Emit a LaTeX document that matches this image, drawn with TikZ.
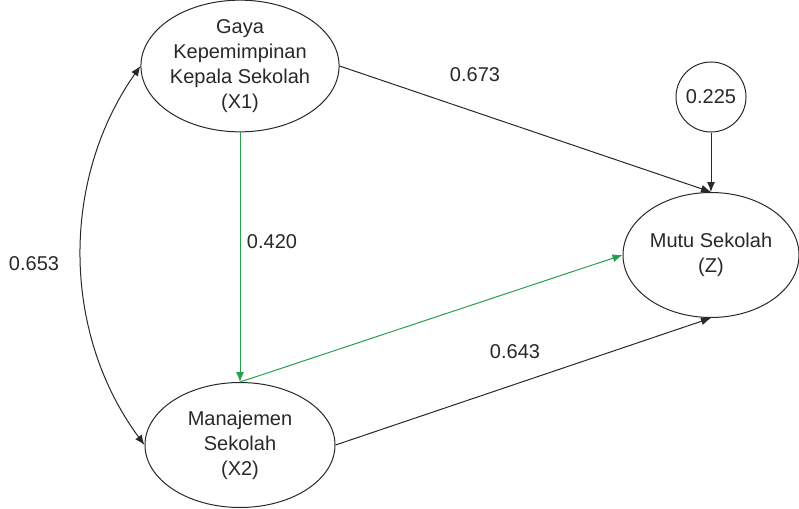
\documentclass[tikz,border=0pt]{standalone}
\usepackage{fontspec}
\setmainfont{Liberation Sans}
\usetikzlibrary{shapes.geometric,arrows.meta,positioning}
\definecolor{pathgreen}{RGB}{38,160,76}
\definecolor{linegray}{RGB}{40,40,40}
\tikzstyle{arrow} = [line width=1pt,linegray,-{Latex[length=10pt,width=8pt]}]
\tikzstyle{latent} = [draw=linegray,line width=1pt,ellipse,inner sep=0pt,align=center,font=\fontsize{20}{25}\selectfont,text=linegray]
\tikzstyle{coef} = [font=\fontsize{20}{24}\selectfont,text=linegray]

\begin{document}
\begin{tikzpicture}[x=1pt,y=1pt]
\useasboundingbox (0,0) rectangle (799,-508);

\node[latent,minimum width=190pt,minimum height=125pt] (x1) at (240,-66) {Gaya\\Kepemimpinan\\Kepala Sekolah\\(X1)};
\node[latent,minimum width=190pt,minimum height=125pt] (x2) at (240,-445) {Manajemen\\Sekolah\\(X2)};
\node[latent,minimum width=176pt,minimum height=125pt] (z) at (711,-255) {Mutu Sekolah\\(Z)};
\node[latent,circle,minimum size=70pt] (e) at (711,-97) {0.225};

\draw [arrow] (x1.east) -- (z.north);
\draw [arrow] (x2.east) -- (z.south);
\draw [arrow] (e.south) -- (z.north);
\draw [arrow,pathgreen] (x1.south) -- (x2.north);
\draw [arrow,pathgreen] (x2.north) -- (z.west);
\draw [arrow,{Latex[length=10pt,width=8pt]}-{Latex[length=10pt,width=8pt]}] (x1.west) .. controls (61,-179) and (61,-332) .. (x2.west);

\node[coef] (c1) at (475,-75) {0.673};
\node[coef] (c2) at (272,-242) {0.420};
\node[coef] (c3) at (515,-352) {0.643};
\node[coef] (c4) at (34,-264) {0.653};
\end{tikzpicture}
\end{document}
